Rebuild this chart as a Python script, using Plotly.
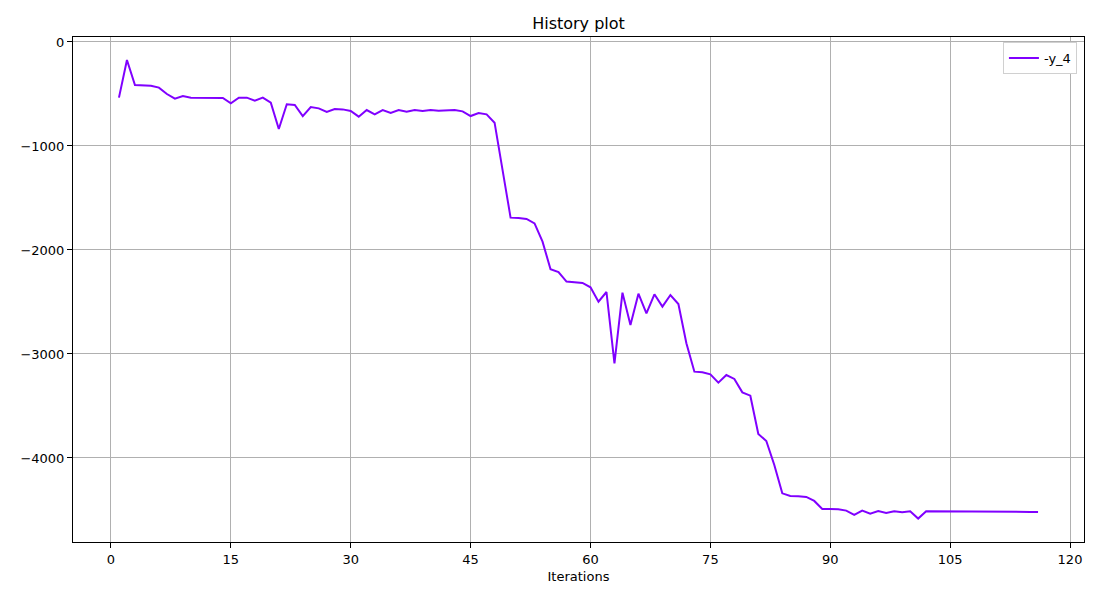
import plotly.graph_objects as go

# objective value per iteration
iterations = list(range(1, 117))
y_4 = [
    -535, -173, -413, -413, -420, -439, -500, -545, -519, -535,
    -535, -538, -542, -538, -590, -535, -535, -564, -535, -583,
    -837, -599, -606, -712, -625, -638, -673, -644, -648, -663,
    -718, -654, -696, -654, -683, -654, -670, -654, -663, -654,
    -660, -657, -654, -667, -712, -683, -696, -776, -1231, -1689,
    -1692, -1702, -1744, -1920, -2186, -2212, -2304, -2311, -2317, -2359,
    -2497, -2404, -3090, -2410, -2721, -2420, -2609, -2426, -2545, -2433,
    -2519, -2897, -3170, -3176, -3196, -3276, -3202, -3240, -3369, -3401,
    -3769, -3837, -4067, -4340, -4365, -4369, -4375, -4413, -4490, -4490,
    -4494, -4506, -4548, -4506, -4535, -4510, -4529, -4513, -4522, -4513,
    -4583, -4512, -4512, -4512, -4512, -4512, -4512, -4512, -4512, -4513,
    -4514, -4515, -4516, -4517, -4519, -4520,
]
x_ticks = [0, 15, 30, 45, 60, 75, 90, 105, 120]
y_ticks = [0, -1000, -2000, -3000, -4000]
y_labels = ["0", "\u22121000", "\u22122000", "\u22123000", "\u22124000"]

fig = go.Figure()
fig.add_trace(go.Scatter(
    x=iterations, y=y_4, mode="lines", name="-y_4",
    line=dict(color="#8000ff", width=2),
))

axis_style = dict(
    showline=True, linecolor="black", linewidth=1, mirror=True,
    ticks="outside", ticklen=5, tickcolor="black",
    showgrid=True, gridcolor="#b0b0b0", gridwidth=1,
    zeroline=False, tickfont=dict(size=13, color="black"),
)

# page body adds ~8px offset, margins compensate for it
fig.update_layout(
    width=1100, height=600,
    paper_bgcolor="white", plot_bgcolor="white",
    font=dict(family="DejaVu Sans", color="black"),
    margin=dict(l=61, r=24, t=29, b=66),
    title=dict(text="History plot", x=0.5, xref="paper", y=0.975,
               yanchor="middle", font=dict(size=16)),
    xaxis=dict(range=[-4.75, 121.75], tickvals=x_ticks,
               title=dict(text="Iterations", font=dict(size=13), standoff=6),
               **axis_style),
    yaxis=dict(range=[-4808, 48], tickvals=y_ticks, ticktext=y_labels,
               **axis_style),
    showlegend=True,
    legend=dict(x=0.993, y=0.99, xanchor="right", yanchor="top",
                bordercolor="#d0d0d0", borderwidth=1, bgcolor="white",
                font=dict(size=13)),
)

fig.write_html("out.html")
